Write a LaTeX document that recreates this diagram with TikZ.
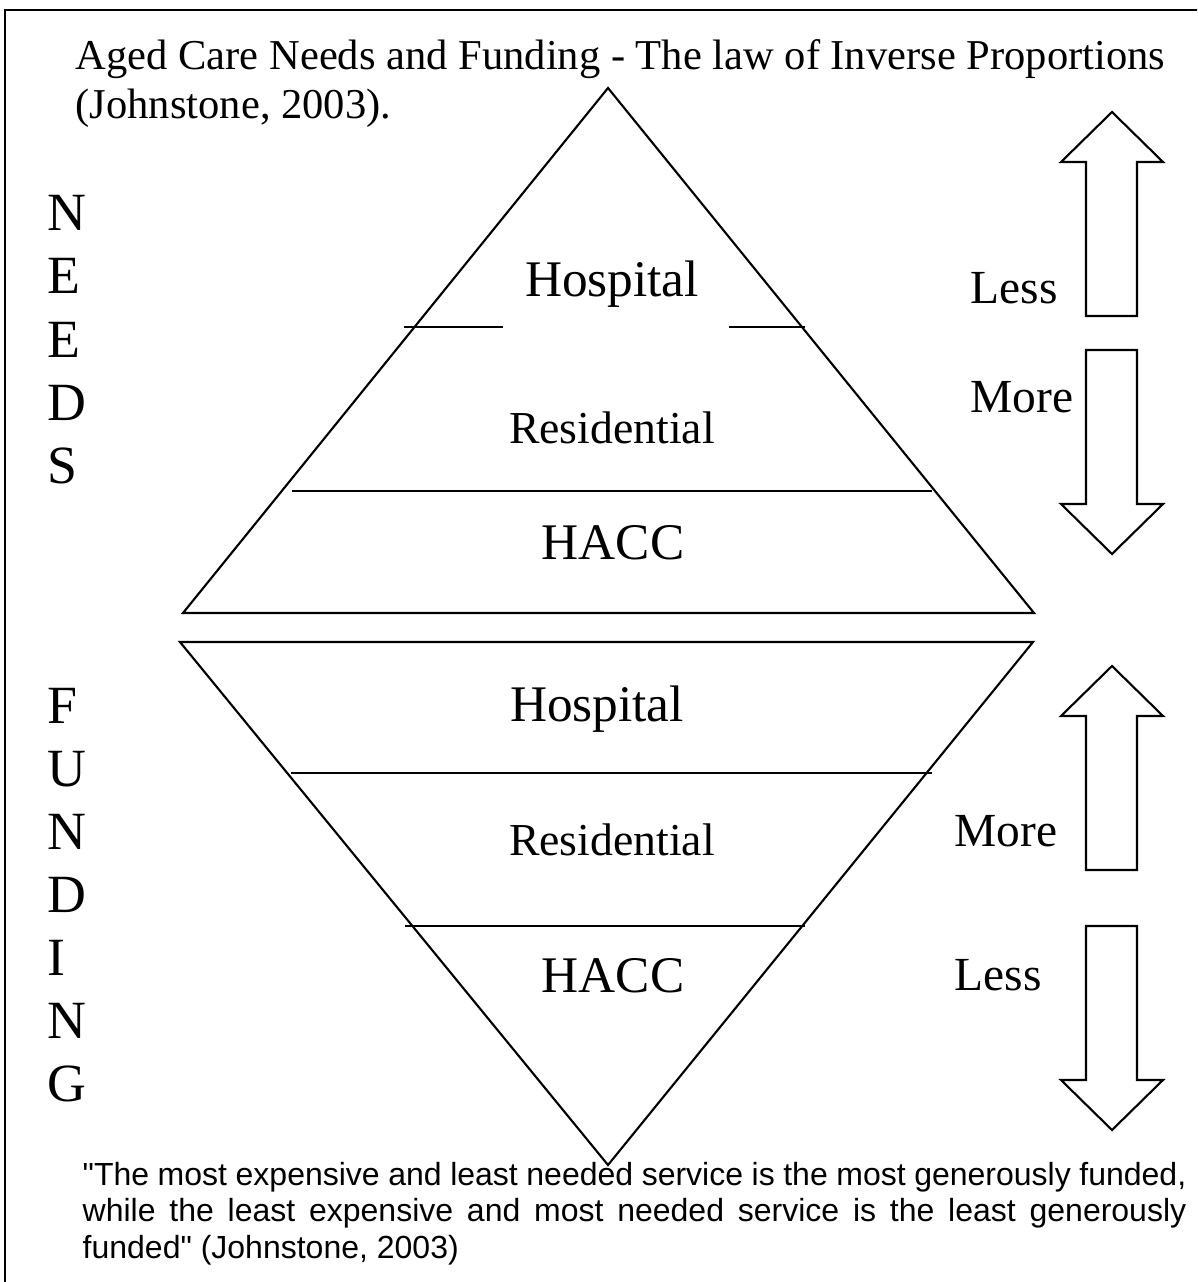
\documentclass[tikz,border=0pt]{standalone}
\usepackage{fontspec}
\setmainfont{Liberation Serif}
\setsansfont{Liberation Sans}[Ligatures=TeXOff]
\usetikzlibrary{positioning}

\tikzset{
  outline/.style={draw=black, line width=0.6pt},
  layerlabel/.style={font=\fontsize{14.6}{16}\selectfont, anchor=base, inner sep=0pt},
  reslabel/.style={font=\fontsize{13}{15}\selectfont, anchor=base, inner sep=0pt},
  sidelabel/.style={font=\fontsize{15.3}{17}\selectfont, anchor=base west, inner sep=0pt},
  amountlabel/.style={font=\fontsize{13.5}{15}\selectfont, anchor=base west, inner sep=0pt},
  titlelabel/.style={font=\fontsize{12.1}{14}\selectfont, anchor=base west, inner sep=0pt},
  blockarrow/.style={draw=black, line width=0.6pt, line join=miter, fill=white},
}

\begin{document}
\begin{tikzpicture}[x=0.01cm, y=-0.01cm]
    \useasboundingbox (0,0) rectangle (1197,1282);
    \clip (0,0) rectangle (1197,1282);

    % Frame round the figure
    \draw[line width=0.8pt] (5,1300) -- (5,10) -- (1210,10);

    % Title
    \node[titlelabel] (title) at (75,70) {Aged Care Needs and Funding - The law of Inverse Proportions};
    \node[titlelabel] (cite) at (75,119) {(Johnstone, 2003).};

    % Needs triangle
    \coordinate (ntop) at (608,88);
    \coordinate (nleft) at (183,613);
    \coordinate (nright) at (1034,613);
    \draw[outline] (ntop) -- (nleft) -- (nright) -- cycle;
    \draw[outline] (404,327) -- (503,327);
    \draw[outline] (729,327) -- (805,327);
    \draw[outline] (292,491) -- (932,491);

    \node[layerlabel] (nhosp) at (612,296) {Hospital};
    \node[reslabel] (nres) at (612,443) {Residential};
    \begin{scope}
        \clip (400,500) rectangle (820,559);
        \node[layerlabel] (nhacc) at (613,559) {HACC};
    \end{scope}

    % Funding triangle
    \coordinate (fleft) at (180,642);
    \coordinate (fright) at (1033,642);
    \coordinate (fbottom) at (608,1165);
    \draw[outline] (fleft) -- (fright) -- (fbottom) -- cycle;
    \draw[outline] (291,773) -- (932,773);
    \draw[outline] (405,926) -- (805,926);

    \node[layerlabel] (fhosp) at (597,721) {Hospital};
    \node[reslabel] (fres) at (612,855) {Residential};
    \begin{scope}
        \clip (400,930) rectangle (820,992);
        \node[layerlabel] (fhacc) at (613,992) {HACC};
    \end{scope}

    % Side words, one letter a line
    \foreach \l [count=\i from 0] in {N,E,E,D,S}
        \node[sidelabel] (needs\i) at (47,{231+63*\i}) {\l};
    \foreach \l [count=\i from 0] in {F,U,N,D,I,N,G}
        \node[sidelabel] (fund\i) at (47,{723+63*\i}) {\l};

    % Block arrows, needs side
    \draw[blockarrow] (1112,112) -- (1163,162) -- (1137,162) -- (1137,316)
        -- (1086,316) -- (1086,162) -- (1061,162) -- cycle;
    \draw[blockarrow] (1086,350) -- (1137,350) -- (1137,504) -- (1163,504)
        -- (1112,554) -- (1061,504) -- (1086,504) -- cycle;
    \node[amountlabel] (nless) at (970,304) {Less};
    \node[amountlabel] (nmore) at (970,412) {More};

    % Block arrows, funding side
    \draw[blockarrow] (1112,666) -- (1163,716) -- (1137,716) -- (1137,870)
        -- (1086,870) -- (1086,716) -- (1061,716) -- cycle;
    \draw[blockarrow] (1086,926) -- (1137,926) -- (1137,1080) -- (1163,1080)
        -- (1112,1130) -- (1061,1080) -- (1086,1080) -- cycle;
    \node[amountlabel] (fmore) at (954,846) {More};
    \node[amountlabel] (fless) at (954,990) {Less};

    % Quote
    \node[font=\sffamily\fontsize{9.1}{10.5}\selectfont, text width=11.03cm, align=justify,
          anchor=base west, inner sep=0pt] (quote) at (82,1185)
        {"The most expensive and least needed service is the most generously funded,\linebreak
         while the least expensive and most needed service is the least generously\linebreak
         funded" (Johnstone, 2003)};
\end{tikzpicture}
\end{document}
